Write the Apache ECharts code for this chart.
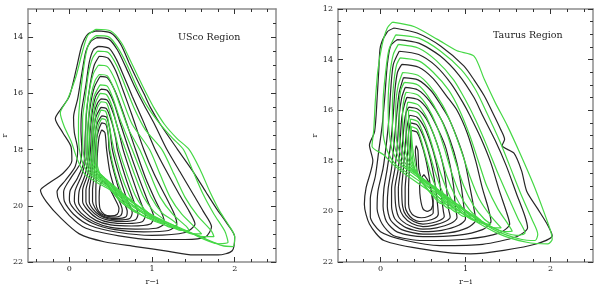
<!DOCTYPE html>
<html><head><meta charset="utf-8">
<script src="https://cdn.jsdelivr.net/npm/echarts@6/dist/echarts.min.js"></script>
<style>html,body{margin:0;padding:0;background:#fff}#c{width:597px;height:291px}</style>
</head><body><div id="c"></div>
<script>
// ---- tick values ----
const X_MAJOR = [0, 1, 2];
const X_MINOR = [-0.4, -0.2, 0.2, 0.4, 0.6, 0.8, 1.2, 1.4, 1.6, 1.8, 2.2, 2.4];
const Y_MAJOR_USCO = [14, 16, 18, 20, 22];
const Y_MAJOR_TAU = [12, 14, 16, 18, 20, 22];
const Y_MINOR_USCO = [13.5, 14.5, 15, 15.5, 16.5, 17, 17.5, 18.5, 19, 19.5, 20.5, 21, 21.5];
const Y_MINOR_TAU = [12.5, 13, 13.5, 14.5, 15, 15.5, 16.5, 17, 17.5, 18.5, 19, 19.5, 20.5, 21, 21.5];
const PANEL_TITLES = ['USco Region', 'Taurus Region'];

// ---- contour lines (r-i, r) ----
const USCO_BLACK = [
 [[0.32,13.78],[0.5,13.85],[0.62,14.25],[0.72,14.9],[0.8,15.4],[0.9,16.0],[0.98,16.5],[1.1,17.1],[1.31,18.0],[1.5,18.8],[1.65,19.5],[1.78,20.1],[1.9,20.6],[2.0,21.1],[1.97,21.6],[1.8,21.75],[1.5,21.75],[1.2,21.62],[0.8,21.45],[0.42,21.28],[0.12,21.0],[-0.1,20.45],[-0.28,19.85],[-0.35,19.45],[-0.25,19.2],[-0.08,18.85],[0.03,18.4],[0.02,17.9],[-0.08,17.4],[-0.17,16.9],[-0.1,16.55],[0.0,16.1],[0.09,15.05],[0.15,14.3],[0.22,13.9],[0.32,13.78]],
 [[0.33,14.02],[0.48,14.08],[0.58,14.45],[0.68,15.05],[0.78,15.7],[0.9,16.4],[1.03,17.1],[1.18,18.0],[1.35,18.85],[1.5,19.6],[1.62,20.2],[1.72,20.75],[1.65,21.1],[1.4,21.2],[1.0,21.2],[0.6,21.07],[0.2,20.8],[0.0,20.35],[-0.12,19.85],[-0.15,19.5],[-0.05,19.1],[0.07,18.6],[0.1,18.0],[0.06,17.4],[0.05,16.85],[0.1,16.2],[0.15,15.3],[0.2,14.5],[0.26,14.15],[0.33,14.02]],
 [[0.35,14.33],[0.48,14.4],[0.57,14.8],[0.66,15.4],[0.76,16.1],[0.88,16.9],[1.03,17.95],[1.18,18.8],[1.33,19.6],[1.45,20.2],[1.52,20.65],[1.4,20.95],[1.0,21.05],[0.6,20.95],[0.25,20.7],[0.05,20.3],[-0.06,19.85],[-0.07,19.5],[0.02,19.0],[0.13,18.5],[0.15,18.0],[0.14,17.3],[0.15,16.6],[0.2,15.7],[0.24,14.9],[0.29,14.45],[0.35,14.33]],
 [[0.36,14.68],[0.47,14.75],[0.56,15.2],[0.65,15.9],[0.76,16.8],[0.9,18.0],[1.03,18.9],[1.17,19.7],[1.27,20.3],[1.3,20.65],[1.2,20.88],[0.9,20.93],[0.55,20.85],[0.28,20.62],[0.1,20.25],[0.0,19.8],[0.01,19.45],[0.1,19.0],[0.18,18.4],[0.19,17.6],[0.21,16.6],[0.25,15.7],[0.3,15.0],[0.36,14.68]],
 [[0.37,15.4],[0.46,15.45],[0.55,15.9],[0.64,16.6],[0.8,18.0],[0.92,19.0],[1.04,19.8],[1.13,20.35],[1.15,20.62],[1.05,20.8],[0.8,20.83],[0.5,20.77],[0.3,20.58],[0.14,20.25],[0.06,19.85],[0.07,19.45],[0.15,18.9],[0.21,18.2],[0.22,17.4],[0.25,16.5],[0.3,15.8],[0.37,15.4]],
 [[0.38,15.85],[0.46,15.9],[0.54,16.35],[0.62,17.1],[0.72,18.0],[0.84,19.0],[0.95,19.85],[1.02,20.4],[0.98,20.65],[0.75,20.72],[0.5,20.68],[0.32,20.52],[0.18,20.2],[0.11,19.85],[0.12,19.45],[0.19,18.9],[0.23,18.2],[0.25,17.4],[0.28,16.6],[0.32,16.1],[0.38,15.85]],
 [[0.38,16.2],[0.46,16.25],[0.53,16.7],[0.6,17.4],[0.65,18.0],[0.76,19.0],[0.86,19.85],[0.92,20.35],[0.88,20.57],[0.7,20.63],[0.5,20.6],[0.34,20.45],[0.22,20.15],[0.16,19.85],[0.16,19.45],[0.22,18.9],[0.25,18.2],[0.27,17.4],[0.3,16.7],[0.34,16.35],[0.38,16.2]],
 [[0.38,16.5],[0.45,16.55],[0.51,17.0],[0.56,17.6],[0.58,18.0],[0.68,19.0],[0.78,19.85],[0.83,20.3],[0.8,20.5],[0.65,20.56],[0.5,20.53],[0.36,20.4],[0.25,20.12],[0.2,19.85],[0.2,19.45],[0.25,18.9],[0.27,18.2],[0.29,17.4],[0.32,16.85],[0.38,16.5]],
 [[0.39,16.8],[0.45,16.85],[0.49,17.3],[0.52,18.0],[0.6,18.9],[0.7,19.8],[0.76,20.25],[0.73,20.45],[0.6,20.5],[0.48,20.47],[0.37,20.35],[0.28,20.1],[0.24,19.85],[0.24,19.45],[0.27,18.9],[0.29,18.2],[0.31,17.5],[0.34,17.05],[0.39,16.8]],
 [[0.39,17.05],[0.44,17.1],[0.47,17.5],[0.48,18.0],[0.54,18.8],[0.63,19.7],[0.7,20.2],[0.68,20.4],[0.57,20.45],[0.46,20.42],[0.37,20.3],[0.31,20.08],[0.28,19.85],[0.28,19.45],[0.3,18.9],[0.31,18.2],[0.33,17.6],[0.36,17.25],[0.39,17.05]],
 [[0.39,17.3],[0.43,17.4],[0.45,18.0],[0.49,18.8],[0.57,19.6],[0.64,20.15],[0.62,20.35],[0.53,20.4],[0.44,20.36],[0.37,20.25],[0.33,20.05],[0.32,19.8],[0.32,19.4],[0.33,18.8],[0.34,18.1],[0.36,17.55],[0.39,17.3]],
 [[0.4,19.1],[0.47,19.3],[0.55,19.75],[0.6,20.1],[0.58,20.3],[0.5,20.36],[0.42,20.3],[0.37,20.1],[0.36,19.7],[0.37,19.3],[0.4,19.1]],
 [[0.36,18.9],[0.39,18.92],[0.39,19.0],[0.36,19.0],[0.36,18.9]]
];
const USCO_GREEN = [
 [[0.32,13.72],[0.5,13.78],[0.63,14.2],[0.74,14.85],[0.83,15.4],[0.93,16.0],[1.02,16.5],[1.15,17.1],[1.3,17.6],[1.45,18.0],[1.58,18.7],[1.7,19.5],[1.82,20.2],[1.93,20.7],[2.0,21.1],[1.98,21.45],[1.85,21.42],[1.5,21.0],[1.03,20.55],[0.72,20.05],[0.5,19.45],[0.32,19.15],[0.18,18.85],[0.09,18.3],[0.02,17.7],[-0.06,17.2],[-0.11,16.7],[-0.02,16.2],[0.08,15.4],[0.15,14.6],[0.22,13.95],[0.32,13.72]],
 [[0.32,13.95],[0.48,14.0],[0.58,14.35],[0.7,15.0],[0.82,15.8],[0.95,16.5],[1.1,17.1],[1.25,17.6],[1.38,18.0],[1.5,18.8],[1.62,19.6],[1.75,20.3],[1.88,20.9],[1.92,21.3],[1.8,21.35],[1.45,20.95],[1.02,20.45],[0.72,19.95],[0.5,19.4],[0.34,19.1],[0.22,18.8],[0.14,18.3],[0.11,17.6],[0.11,17.0],[0.12,16.5],[0.15,15.6],[0.2,14.6],[0.25,14.15],[0.32,13.95]],
 [[0.34,14.5],[0.47,14.55],[0.57,15.0],[0.67,15.7],[0.78,16.5],[0.92,17.3],[1.12,18.0],[1.27,18.9],[1.4,19.7],[1.55,20.35],[1.72,20.9],[1.75,21.1],[1.62,21.1],[1.35,20.8],[1.0,20.38],[0.72,19.88],[0.5,19.35],[0.36,19.08],[0.25,18.8],[0.18,18.3],[0.16,17.6],[0.16,16.9],[0.19,16.2],[0.23,15.3],[0.28,14.75],[0.34,14.5]],
 [[0.35,15.0],[0.46,15.05],[0.55,15.5],[0.64,16.2],[0.76,17.1],[0.97,18.0],[1.1,18.9],[1.22,19.7],[1.36,20.3],[1.55,20.85],[1.6,21.0],[1.48,21.0],[1.25,20.68],[0.98,20.3],[0.72,19.8],[0.5,19.3],[0.37,19.05],[0.27,18.8],[0.21,18.3],[0.2,17.6],[0.2,16.9],[0.23,16.1],[0.29,15.3],[0.35,15.0]],
 [[0.36,15.33],[0.46,15.38],[0.54,15.85],[0.62,16.5],[0.72,17.3],[0.85,18.0],[0.98,18.9],[1.1,19.7],[1.25,20.3],[1.42,20.75],[1.45,20.88],[1.35,20.88],[1.15,20.6],[0.94,20.22],[0.7,19.72],[0.5,19.25],[0.38,19.03],[0.29,18.8],[0.23,18.3],[0.22,17.6],[0.23,16.9],[0.26,16.1],[0.31,15.55],[0.36,15.33]],
 [[0.37,15.7],[0.46,15.75],[0.53,16.2],[0.61,16.9],[0.76,18.0],[0.88,18.9],[0.99,19.7],[1.12,20.25],[1.3,20.68],[1.3,20.78],[1.2,20.75],[1.05,20.5],[0.88,20.12],[0.68,19.65],[0.5,19.2],[0.39,19.0],[0.31,18.8],[0.25,18.3],[0.24,17.6],[0.26,16.8],[0.3,16.1],[0.37,15.7]],
 [[0.37,16.0],[0.45,16.05],[0.52,16.5],[0.58,17.2],[0.68,18.0],[0.79,18.9],[0.9,19.7],[1.02,20.2],[1.15,20.55],[1.14,20.62],[1.02,20.5],[0.88,20.25],[0.75,19.95],[0.6,19.55],[0.48,19.15],[0.4,18.98],[0.32,18.8],[0.27,18.3],[0.27,17.6],[0.29,16.8],[0.32,16.3],[0.37,16.0]],
 [[0.38,16.3],[0.45,16.35],[0.5,16.8],[0.55,17.4],[0.6,18.0],[0.7,18.9],[0.8,19.65],[0.9,20.1],[1.0,20.4],[0.97,20.45],[0.86,20.3],[0.7,19.95],[0.56,19.5],[0.46,19.1],[0.4,18.95],[0.33,18.75],[0.29,18.3],[0.29,17.6],[0.31,16.9],[0.34,16.5],[0.38,16.3]],
 [[0.38,16.6],[0.44,16.65],[0.48,17.1],[0.51,17.6],[0.54,18.0],[0.62,18.85],[0.72,19.6],[0.8,20.0],[0.85,20.2],[0.82,20.25],[0.72,20.08],[0.6,19.8],[0.5,19.4],[0.43,19.05],[0.38,18.9],[0.33,18.7],[0.31,18.3],[0.31,17.6],[0.33,17.0],[0.38,16.6]],
 [[0.39,16.9],[0.44,16.95],[0.47,17.4],[0.49,18.0],[0.55,18.8],[0.63,19.5],[0.7,19.9],[0.72,20.0],[0.66,19.95],[0.56,19.65],[0.48,19.3],[0.42,19.0],[0.37,18.85],[0.34,18.6],[0.33,18.2],[0.33,17.6],[0.35,17.15],[0.39,16.9]]
];
const TAURUS_BLACK = [
 [[0.16,12.75],[0.43,12.95],[0.71,13.47],[0.98,14.25],[1.1,14.8],[1.22,15.43],[1.32,16.1],[1.41,16.73],[1.46,17.15],[1.43,17.4],[1.57,17.7],[1.66,18.4],[1.72,19.2],[1.85,19.9],[1.96,20.5],[2.02,20.96],[1.84,21.28],[1.45,21.54],[1.06,21.68],[0.59,21.54],[0.04,21.15],[-0.13,20.5],[-0.19,19.72],[-0.17,19.07],[-0.09,18.0],[-0.13,17.38],[-0.07,16.86],[-0.04,15.55],[-0.02,14.4],[0.0,13.47],[0.08,12.9],[0.16,12.75]],
 [[0.2,13.21],[0.45,13.35],[0.7,13.85],[0.92,14.6],[1.1,15.5],[1.2,16.2],[1.35,17.2],[1.48,18.2],[1.6,19.3],[1.7,20.2],[1.73,20.65],[1.6,21.0],[1.2,21.3],[0.7,21.35],[0.3,21.15],[0.0,20.8],[-0.12,20.2],[-0.12,19.5],[-0.06,18.6],[-0.02,17.6],[0.02,16.6],[0.05,15.5],[0.08,14.2],[0.12,13.45],[0.2,13.21]],
 [[0.22,13.67],[0.45,13.8],[0.65,14.25],[0.83,14.95],[0.97,15.7],[1.05,16.2],[1.18,17.1],[1.3,18.1],[1.4,19.2],[1.48,20.0],[1.52,20.5],[1.4,20.85],[1.0,21.1],[0.5,21.15],[0.15,20.95],[0.02,20.5],[-0.04,19.9],[-0.03,19.2],[0.03,18.3],[0.07,17.3],[0.1,16.3],[0.12,15.2],[0.15,14.2],[0.22,13.67]],
 [[0.25,14.19],[0.45,14.3],[0.62,14.75],[0.78,15.45],[0.9,16.0],[1.02,16.9],[1.12,18.0],[1.2,19.1],[1.27,19.9],[1.3,20.4],[1.2,20.72],[0.9,20.95],[0.5,21.0],[0.2,20.82],[0.07,20.4],[0.03,19.8],[0.04,19.1],[0.08,18.3],[0.12,17.3],[0.15,16.2],[0.17,15.2],[0.2,14.5],[0.25,14.19]],
 [[0.27,14.71],[0.44,14.8],[0.6,15.25],[0.72,15.85],[0.8,16.3],[0.9,17.1],[0.99,18.0],[1.05,19.0],[1.1,19.9],[1.12,20.35],[1.02,20.65],[0.8,20.85],[0.5,20.9],[0.25,20.72],[0.12,20.35],[0.08,19.8],[0.09,19.1],[0.13,18.3],[0.16,17.3],[0.19,16.2],[0.22,15.3],[0.27,14.71]],
 [[0.29,15.1],[0.44,15.2],[0.58,15.65],[0.72,16.4],[0.82,17.2],[0.9,18.1],[0.95,19.0],[0.98,19.8],[1.0,20.3],[0.92,20.55],[0.72,20.75],[0.5,20.8],[0.3,20.64],[0.17,20.3],[0.13,19.8],[0.13,19.1],[0.17,18.3],[0.2,17.3],[0.22,16.2],[0.25,15.5],[0.29,15.1]],
 [[0.31,15.49],[0.44,15.58],[0.56,16.0],[0.67,16.7],[0.76,17.4],[0.82,18.2],[0.86,19.0],[0.88,19.8],[0.9,20.25],[0.83,20.47],[0.66,20.65],[0.5,20.7],[0.34,20.56],[0.22,20.25],[0.18,19.8],[0.17,19.1],[0.21,18.3],[0.23,17.3],[0.25,16.3],[0.28,15.8],[0.31,15.49]],
 [[0.33,15.88],[0.44,15.96],[0.54,16.35],[0.63,17.0],[0.7,17.7],[0.75,18.4],[0.78,19.2],[0.8,19.9],[0.82,20.22],[0.76,20.4],[0.62,20.55],[0.5,20.6],[0.37,20.48],[0.27,20.2],[0.22,19.8],[0.21,19.1],[0.24,18.3],[0.26,17.3],[0.28,16.5],[0.3,16.1],[0.33,15.88]],
 [[0.34,16.2],[0.43,16.28],[0.52,16.7],[0.59,17.3],[0.65,18.0],[0.69,18.7],[0.72,19.5],[0.74,20.0],[0.75,20.2],[0.7,20.35],[0.6,20.46],[0.5,20.5],[0.39,20.4],[0.3,20.15],[0.26,19.8],[0.25,19.1],[0.27,18.3],[0.29,17.4],[0.31,16.7],[0.34,16.2]],
 [[0.35,16.5],[0.43,16.58],[0.5,17.0],[0.56,17.6],[0.61,18.3],[0.65,19.1],[0.67,19.7],[0.68,20.1],[0.64,20.27],[0.55,20.37],[0.46,20.4],[0.38,20.3],[0.32,20.08],[0.29,19.8],[0.29,19.1],[0.31,18.3],[0.32,17.5],[0.33,16.9],[0.35,16.5]],
 [[0.36,16.8],[0.43,16.88],[0.48,17.3],[0.53,17.9],[0.57,18.6],[0.6,19.3],[0.62,19.8],[0.62,20.05],[0.56,20.2],[0.48,20.25],[0.4,20.18],[0.35,20.0],[0.33,19.7],[0.33,19.1],[0.34,18.3],[0.35,17.5],[0.36,16.8]],
 [[0.51,18.55],[0.56,18.8],[0.6,19.2],[0.62,19.6],[0.6,19.9],[0.55,20.0],[0.5,19.9],[0.47,19.5],[0.46,19.0],[0.48,18.7],[0.51,18.55]],
 [[0.42,17.4],[0.44,17.6],[0.45,18.3],[0.47,18.6],[0.44,18.6],[0.42,18.0],[0.41,17.6],[0.42,17.4]]
];
const TAURUS_GREEN = [
 [[0.14,12.52],[0.4,12.7],[0.67,13.2],[0.9,13.65],[1.1,13.86],[1.22,14.77],[1.35,15.7],[1.49,16.6],[1.65,17.77],[1.8,18.94],[1.92,20.0],[2.0,20.76],[2.02,21.1],[1.97,21.28],[1.72,21.22],[1.4,20.9],[0.98,20.11],[0.6,19.25],[0.3,18.55],[0.15,18.15],[0.04,17.77],[-0.1,17.42],[-0.08,16.8],[-0.06,15.6],[-0.03,14.4],[0.02,13.4],[0.08,12.75],[0.14,12.52]],
 [[0.18,13.02],[0.45,13.15],[0.7,13.65],[0.95,14.4],[1.12,15.2],[1.25,16.1],[1.4,17.2],[1.52,18.2],[1.65,19.3],[1.78,20.3],[1.85,20.9],[1.82,21.15],[1.65,21.1],[1.35,20.75],[1.0,20.0],[0.65,19.25],[0.35,18.55],[0.18,18.15],[0.08,17.6],[0.03,16.8],[0.03,15.7],[0.06,14.5],[0.1,13.6],[0.18,13.02]],
 [[0.21,13.4],[0.45,13.55],[0.66,14.05],[0.86,14.8],[1.0,15.6],[1.12,16.4],[1.25,17.4],[1.37,18.4],[1.5,19.4],[1.62,20.3],[1.7,20.85],[1.6,20.95],[1.3,20.6],[1.0,19.95],[0.7,19.25],[0.4,18.55],[0.24,18.15],[0.14,17.6],[0.1,16.8],[0.09,15.7],[0.11,14.6],[0.15,13.8],[0.21,13.4]],
 [[0.23,13.93],[0.45,14.05],[0.62,14.5],[0.8,15.2],[0.93,16.0],[1.05,17.0],[1.15,18.0],[1.25,19.0],[1.38,19.9],[1.5,20.5],[1.55,20.78],[1.45,20.8],[1.22,20.45],[0.98,19.9],[0.72,19.25],[0.45,18.6],[0.28,18.18],[0.18,17.6],[0.14,16.8],[0.14,15.8],[0.16,14.8],[0.19,14.2],[0.23,13.93]],
 [[0.26,14.51],[0.44,14.62],[0.58,15.05],[0.73,15.8],[0.84,16.6],[0.95,17.6],[1.05,18.6],[1.16,19.5],[1.3,20.2],[1.42,20.65],[1.33,20.65],[1.12,20.3],[0.93,19.8],[0.72,19.25],[0.5,18.7],[0.32,18.22],[0.22,17.6],[0.18,16.8],[0.18,15.8],[0.21,15.0],[0.26,14.51]],
 [[0.28,14.9],[0.44,15.0],[0.56,15.45],[0.69,16.2],[0.79,17.0],[0.88,18.0],[0.98,19.0],[1.1,19.8],[1.22,20.3],[1.3,20.5],[1.2,20.48],[1.02,20.15],[0.86,19.7],[0.68,19.2],[0.5,18.72],[0.35,18.25],[0.26,17.6],[0.22,16.8],[0.22,15.8],[0.24,15.2],[0.28,14.9]],
 [[0.3,15.29],[0.44,15.4],[0.55,15.85],[0.66,16.6],[0.75,17.5],[0.83,18.4],[0.93,19.3],[1.05,19.95],[1.18,20.35],[1.1,20.35],[0.95,20.05],[0.8,19.6],[0.65,19.15],[0.5,18.75],[0.38,18.3],[0.3,17.7],[0.26,16.9],[0.26,16.0],[0.28,15.5],[0.3,15.29]],
 [[0.32,15.68],[0.44,15.78],[0.53,16.2],[0.62,16.9],[0.7,17.7],[0.78,18.6],[0.88,19.4],[0.98,19.95],[1.06,20.2],[0.98,20.2],[0.86,19.9],[0.74,19.5],[0.62,19.1],[0.5,18.75],[0.4,18.35],[0.33,17.7],[0.3,16.9],[0.3,16.1],[0.32,15.68]],
 [[0.33,16.0],[0.44,16.1],[0.52,16.55],[0.59,17.2],[0.66,18.0],[0.74,18.8],[0.83,19.5],[0.92,19.9],[0.95,20.05],[0.88,20.02],[0.78,19.75],[0.67,19.4],[0.57,19.05],[0.48,18.75],[0.41,18.38],[0.35,17.7],[0.33,16.9],[0.33,16.3],[0.33,16.0]],
 [[0.35,16.35],[0.44,16.45],[0.5,16.9],[0.56,17.5],[0.62,18.2],[0.7,19.0],[0.78,19.55],[0.85,19.85],[0.8,19.88],[0.7,19.6],[0.6,19.3],[0.52,19.0],[0.45,18.7],[0.4,18.3],[0.37,17.7],[0.36,17.0],[0.35,16.35]],
 [[0.36,16.65],[0.43,16.75],[0.48,17.2],[0.53,17.8],[0.59,18.5],[0.66,19.1],[0.73,19.5],[0.76,19.7],[0.7,19.68],[0.62,19.4],[0.55,19.1],[0.48,18.8],[0.43,18.4],[0.39,17.8],[0.37,17.2],[0.36,16.65]]
];

// ---- styling / layout ----
const BLACK = '#262626', GREEN = '#45d845';
const FRAME = '#8c8c8c', TICKC = '#333';
const FONT = 'DejaVu Serif';
const grids = [
  {left: 22, top: 9, width: 254, height: 255},
  {left: 338, top: 9, width: 255, height: 256}
];
const yRanges = [[13, 22], [12, 22]];
const yMajors = [Y_MAJOR_USCO, Y_MAJOR_TAU];
const yMinors = [Y_MINOR_USCO, Y_MINOR_TAU];
const yNameGap = [17, 19];

const xAxis = [], yAxis = [];
function axisSet(arr, g, kind, pos, major, minor, min, max, extra) {
  const base = {gridIndex: g, type: 'value', min: min, max: max, position: pos,
    splitLine: {show: false}, inverse: kind === 'y'};
  arr.push(Object.assign({}, base, {
    axisLine: {show: true, onZero: false, lineStyle: {color: FRAME, width: 1.5}},
    axisTick: {show: true, inside: true, length: 5, customValues: major, lineStyle: {color: TICKC, width: 1}},
    axisLabel: (pos === 'bottom' || pos === 'left') ? {show: true, customValues: major, fontFamily: FONT, fontSize: 8, color: '#222', margin: kind === 'x' ? 3 : 5} : {show: false}
  }, extra || {}));
  arr.push(Object.assign({}, base, {
    axisLine: {show: false, onZero: false},
    axisTick: {show: true, inside: true, length: 3, customValues: minor, lineStyle: {color: TICKC, width: 1}},
    axisLabel: {show: false}
  }));
}
for (let g = 0; g < 2; g++) {
  axisSet(xAxis, g, 'x', 'bottom', X_MAJOR, X_MINOR, -0.5, 2.5,
    {name: 'r\u2212i', nameLocation: 'middle', nameGap: 16, nameTextStyle: {fontFamily: FONT, fontSize: 8, color: '#222'}});
  axisSet(xAxis, g, 'x', 'top', X_MAJOR, X_MINOR, -0.5, 2.5);
  axisSet(yAxis, g, 'y', 'left', yMajors[g], yMinors[g], yRanges[g][0], yRanges[g][1],
    {name: 'r', nameLocation: 'middle', nameGap: yNameGap[g], nameRotate: 90, nameTextStyle: {fontFamily: FONT, fontSize: 8, color: '#222'}});
  axisSet(yAxis, g, 'y', 'right', yMajors[g], yMinors[g], yRanges[g][0], yRanges[g][1]);
}

const series = [];
function addLoops(list, color, g) {
  list.forEach(pts => series.push({
    type: 'line', xAxisIndex: g * 4, yAxisIndex: g * 4, data: pts,
    showSymbol: false, smooth: 0.25, silent: true, animation: false,
    lineStyle: {color: color, width: 1.2}, z: color === GREEN ? 3 : 2
  }));
}
addLoops(USCO_BLACK, BLACK, 0);
addLoops(USCO_GREEN, GREEN, 0);
addLoops(TAURUS_BLACK, BLACK, 1);
addLoops(TAURUS_GREEN, GREEN, 1);

const chart = echarts.init(document.getElementById('c'), null, {renderer: 'canvas'});
chart.setOption({
  animation: false,
  backgroundColor: '#fff',
  grid: grids,
  title: [
    {text: PANEL_TITLES[0], left: 173, top: 28, textStyle: {fontFamily: FONT, fontSize: 9.5, fontWeight: 'normal', color: '#222'}},
    {text: PANEL_TITLES[1], left: 488, top: 26, textStyle: {fontFamily: FONT, fontSize: 9.5, fontWeight: 'normal', color: '#222'}}
  ],
  xAxis: xAxis, yAxis: yAxis, series: series
});
</script></body></html>
